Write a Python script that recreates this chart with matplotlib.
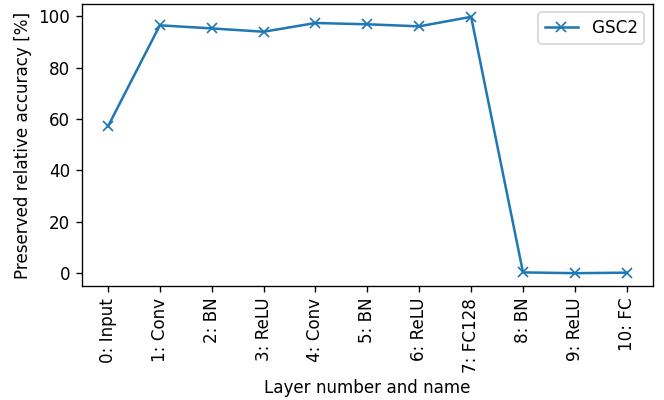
import numpy as np
import matplotlib.pyplot as plt

# Layer names along the x axis
layers = ["0: Input", "1: Conv", "2: BN", "3: ReLU", "4: Conv", "5: BN",
          "6: ReLU", "7: FC128", "8: BN", "9: ReLU", "10: FC"]
# Preserved relative accuracy per layer [%]
gsc2 = [57.1, 96.4, 95.2, 93.9, 97.3, 96.8, 96.0, 99.7, 0.4, 0.1, 0.3]

x = np.arange(len(layers))

dpi = 121
fig = plt.figure(figsize=(664 / dpi, 400 / dpi), dpi=dpi)
ax = fig.add_subplot(111)
ax.plot(x, gsc2, marker='x', markersize=6, label='GSC2')
ax.set_xticks(x)
ax.set_xticklabels(layers, rotation=90)
ax.set_xlabel("Layer number and name")
ax.set_ylabel("Preserved relative accuracy [%]")
ax.legend(loc='upper right')
fig.subplots_adjust(left=0.1235, right=0.983, top=0.99, bottom=0.285)
fig.savefig("out.png", dpi=dpi)
